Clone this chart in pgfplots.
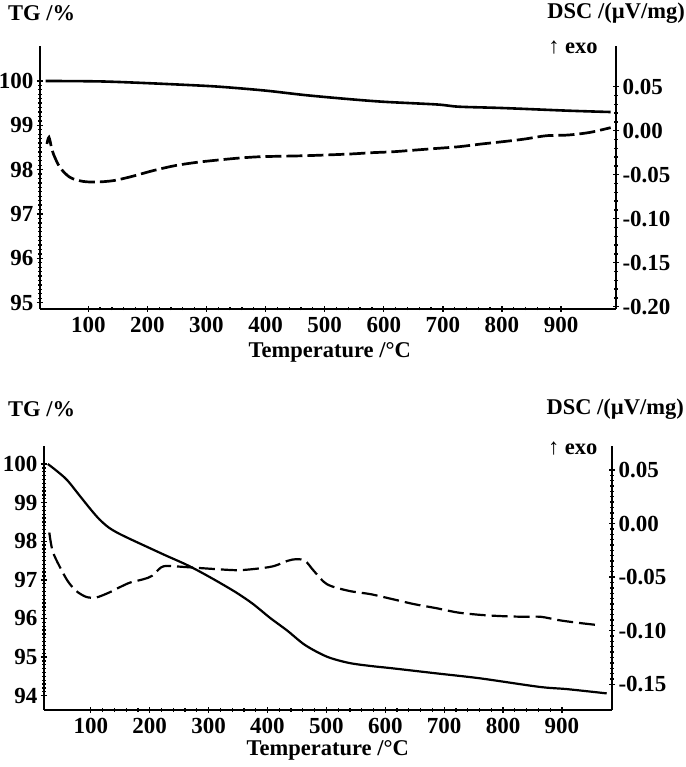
\documentclass[border=0pt]{standalone}
\usepackage{fontspec}
\setmainfont{Liberation Serif}
\usepackage{pgfplots}
\pgfplotsset{compat=1.18}

\pgfplotstableread{
T TG
28 100.00
120 99.99
202 99.95
298 99.89
342 99.85
402 99.78
468 99.68
542 99.59
601 99.53
690 99.47
727 99.42
801 99.39
912 99.33
984 99.30
}\tgA

\pgfplotstableread{
T DSC
30 -0.0150
33.5 -0.0075
38 -0.0200
41 -0.0265
52 -0.0417
69 -0.0530
91 -0.0576
114 -0.0583
142 -0.0568
172 -0.0523
209 -0.0455
246 -0.0398
283 -0.0360
320 -0.0333
357 -0.0310
394 -0.0295
468 -0.0284
542 -0.0265
579 -0.0250
616 -0.0239
653 -0.0220
690 -0.0201
727 -0.0182
764 -0.0152
801 -0.0125
838 -0.0095
875 -0.0057
912 -0.0049
949 -0.0019
984 0.0035
}\dscA

\pgfplotstableread{
T TG
27 100.00
43 99.81
60 99.58
80 99.20
100 98.82
115 98.56
130 98.36
145 98.22
165 98.07
189 97.90
226 97.64
264 97.38
301 97.08
345 96.69
375 96.38
404 96.02
434 95.68
464 95.31
501 95.01
538 94.85
575 94.77
612 94.71
686 94.58
761 94.45
861 94.23
909 94.17
976 94.06
}\tgB

\pgfplotstableread{
T DSC
29.5 -0.0084
35 -0.0255
46.5 -0.0395
60.6 -0.0535
75 -0.0628
92 -0.0684
109 -0.0690
131 -0.0644
148 -0.0597
167 -0.0550
189 -0.0520
204 -0.0488
219 -0.0410
230 -0.0395
256 -0.0404
315 -0.0426
352 -0.0435
390 -0.0416
412 -0.0395
434 -0.0348
449 -0.0332
464 -0.0348
478.6 -0.0441
501 -0.0566
538 -0.0628
575 -0.0659
612 -0.0705
649 -0.0752
686 -0.0789
723 -0.0830
761 -0.0852
798 -0.0864
835 -0.0870
864 -0.0870
894 -0.0901
924 -0.0924
957 -0.0945
}\dscB

\newcommand{\tickfont}{\bfseries\fontsize{23}{23}\selectfont}
\newcommand{\labfont}{\bfseries\fontsize{22.5}{22.5}\selectfont}

\begin{document}
\begin{tikzpicture}[x=1pt,y=1pt]
\useasboundingbox (0,0) rectangle (685,767);
\pgfplotsset{
  base/.style={
    scale only axis, clip=false,
    axis line style={line width=1.8pt, black},
    tick style={line width=1.3pt, black},
    tick align=center,
    major tick length=6pt, minor tick length=3.5pt,
    ticklabel style={font=\tickfont},
    xticklabel style={yshift=-2pt},
    /pgf/number format/assume math mode=true,
  },
}

% ---------------- top panel ----------------
\begin{axis}[base, at={(40pt,458.3pt)}, anchor=south west,
  width=576pt, height=262.7pt,
  xmin=18.3, xmax=993, ymin=94.865, ymax=100.789,
  axis x line*=bottom, axis y line*=left,
  xtick={100,200,...,900}, minor x tick num=4,
  ytick={95,96,...,100}, minor y tick num=9,
  xlabel={Temperature /°C},
  xlabel style={at={(axis description cs:0.503,-0.165)}, anchor=center, font=\labfont},
]
\addplot[black, line width=2.6pt, smooth] table[x=T,y=TG] {\tgA};
\node[anchor=west, font=\labfont, inner sep=0pt] at (rel axis cs:-0.0556,1.1256) {TG /\%};
\end{axis}
\begin{axis}[base, at={(40pt,458.3pt)}, anchor=south west,
  width=576pt, height=262.7pt,
  xmin=18.3, xmax=993, ymin=-0.2023, ymax=0.0963,
  axis x line=none, axis y line*=right,
  ytick={-0.20,-0.15,-0.10,-0.05,0,0.05}, minor y tick num=4,
  yticklabel style={/pgf/number format/.cd, fixed, fixed zerofill, precision=2},
]
\addplot[black, line width=2.7pt, smooth, dash pattern=on 16pt off 5pt] table[x=T,y=DSC] {\dscA};
\node[anchor=east, font=\labfont, inner sep=0pt] at (rel axis cs:1.1198,1.1256) {DSC /(µV/mg)};
\node[anchor=west, font=\labfont, inner sep=0pt] at (rel axis cs:0.882,0.996) {\mdseries↑\bfseries{} exo};
\end{axis}

% ---------------- bottom panel ----------------
\begin{axis}[base, at={(44pt,57pt)}, anchor=south west,
  width=568pt, height=264pt,
  xmin=20.5, xmax=985, ymin=93.63, ymax=100.466,
  axis x line*=bottom, axis y line*=left,
  xtick={100,200,...,900}, minor x tick num=4,
  ytick={94,95,...,100}, minor y tick num=9,
  xlabel={Temperature /°C},
  xlabel style={at={(axis description cs:0.4995,-0.1515)}, anchor=center, font=\labfont},
]
\addplot[black, line width=2.2pt, smooth] table[x=T,y=TG] {\tgB};
\node[anchor=west, font=\labfont, inner sep=0pt] at (rel axis cs:-0.0634,1.140) {TG /\%};
\end{axis}
\begin{axis}[base, at={(44pt,57pt)}, anchor=south west,
  width=568pt, height=264pt,
  xmin=20.5, xmax=985, ymin=-0.174, ymax=0.0724,
  axis x line=none, axis y line*=right,
  ytick={-0.15,-0.10,-0.05,0,0.05}, minor y tick num=9,
  yticklabel style={/pgf/number format/.cd, fixed, fixed zerofill, precision=2},
]
\addplot[black, line width=2.2pt, smooth, dash pattern=on 16pt off 6pt] table[x=T,y=DSC] {\dscB};
\node[anchor=east, font=\labfont, inner sep=0pt] at (rel axis cs:1.1268,1.140) {DSC /(µV/mg)};
\node[anchor=west, font=\labfont, inner sep=0pt] at (rel axis cs:0.887,0.992) {\mdseries↑\bfseries{} exo};
\end{axis}
\end{tikzpicture}
\end{document}
